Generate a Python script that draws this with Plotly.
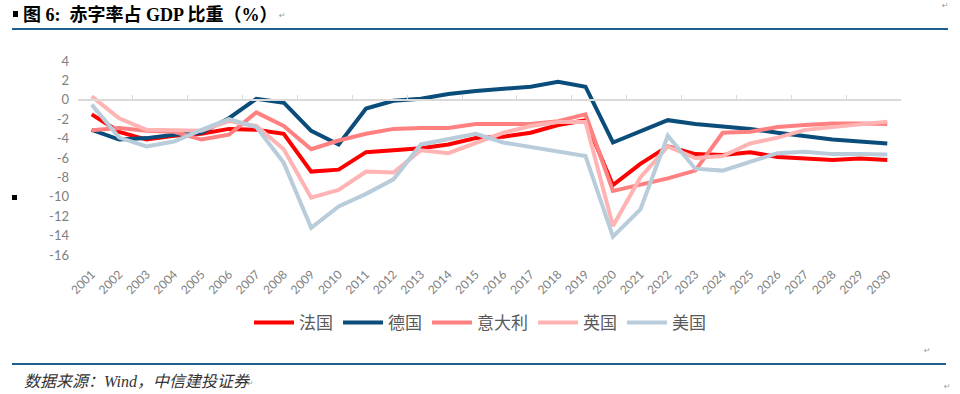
import plotly.graph_objects as go

years = [str(y) for y in range(2001, 2031)]

france = [-1.5, -3.3, -4.1, -3.7, -3.5, -3.0, -3.1, -3.5, -7.4, -7.2,
          -5.4, -5.2, -5.0, -4.6, -3.95, -3.8, -3.4, -2.6, -2.1, -8.8,
          -6.6, -4.8, -5.6, -5.7, -5.4, -5.9, -6.1, -6.2, -6.05, -6.2]
germany = [-3.1, -4.1, -3.95, -3.6, -3.4, -1.9, 0.1, -0.3, -3.2, -4.6,
           -0.9, -0.1, 0.1, 0.6, 0.9, 1.1, 1.35, 1.85, 1.35, -4.4,
           -3.3, -2.1, -2.5, -2.7, -3.0, -3.4, -3.8, -4.1, -4.3, -4.5]
italy = [-3.15, -2.9, -3.2, -3.3, -4.1, -3.6, -1.3, -2.7, -5.1, -4.2,
         -3.5, -3.0, -2.9, -2.9, -2.5, -2.5, -2.5, -2.2, -1.5, -9.4,
         -8.8, -8.1, -7.3, -3.4, -3.3, -2.8, -2.6, -2.45, -2.45, -2.5]
uk = [0.35, -1.9, -3.1, -3.2, -3.2, -2.2, -2.7, -5.1, -10.1, -9.3,
      -7.4, -7.5, -5.2, -5.5, -4.5, -3.4, -2.7, -2.3, -2.3, -13.0,
      -8.0, -4.8, -6.0, -5.8, -4.5, -3.9, -3.1, -2.85, -2.5, -2.25]
usa = [-0.5, -3.9, -4.8, -4.3, -3.1, -2.0, -2.8, -6.5, -13.2, -11.0,
       -9.7, -8.2, -4.6, -4.0, -3.5, -4.4, -4.9, -5.4, -5.8, -14.1,
       -11.3, -3.7, -7.1, -7.3, -6.4, -5.5, -5.35, -5.6, -5.6, -5.65]

series_names = ["法国", "德国", "意大利", "英国", "美国"]
series_colors = ["#FF0000", "#0B4D7A", "#FF8080", "#FFB3B3", "#B8CCDA"]
series_values = [france, germany, italy, uk, usa]

y_tickvals = [4, 2, 0, -2, -4, -6, -8, -10, -12, -14, -16]
y_ticktext = ["4", "2", "0", "-2", "-4", "-6", "-8", "-10", "-12", "-14", "-16"]

title_text = "图 6:  赤字率占 GDP 比重（%）"
source_text = "数据来源：Wind，中信建投证券"

# plot-area geometry in pixels
W_FIG, H_FIG = 960, 394
L, R, T, B = 78, 901, 61, 255
PW, PH = R - L, B - T


def fx(px):
    return (px - L) / PW


def fy(py):
    return (B - py) / PH


fig = go.Figure()
for name, color, vals in zip(series_names, series_colors, series_values):
    fig.add_trace(go.Scatter(
        x=years, y=vals, name=name, mode="lines",
        line=dict(color=color, width=4), hoverinfo="x+y+name"))

# helper trace for the zero-crossing category axis with tick marks
fig.add_trace(go.Scatter(x=[-0.5, 29.5], y=[0, 0], xaxis="x2", mode="lines",
                         line=dict(color="rgba(0,0,0,0)", width=0),
                         showlegend=False, hoverinfo="skip"))

fig.update_layout(
    width=W_FIG, height=H_FIG,
    margin=dict(l=L, r=W_FIG - R, t=T, b=H_FIG - B, autoexpand=False),
    paper_bgcolor="white", plot_bgcolor="white",
    showlegend=True,
    legend=dict(orientation="h", xref="container", yref="container",
                x=0.5, xanchor="center", y=(H_FIG - 323) / H_FIG, yanchor="middle",
                font=dict(family="Noto Sans CJK SC", size=17, color="#595959"),
                itemwidth=40, tracegroupgap=0, bgcolor="rgba(0,0,0,0)"),
    xaxis=dict(type="category", range=[-0.5, 29.5], showgrid=False, zeroline=False,
               showline=False, ticks="", tickangle=-45, ticklabelstandoff=9,
               automargin=False,
               tickfont=dict(family="Lato, Liberation Sans", size=12, color="#7F7F7F")),
    xaxis2=dict(overlaying="x", anchor="free", position=0.8, side="bottom",
                range=[-0.5, 29.5], tickmode="linear", tick0=-0.5, dtick=2,
                showgrid=False, zeroline=False, showline=True, linecolor="#D9D9D9",
                linewidth=1.5, ticks="inside", ticklen=4, tickwidth=1,
                tickcolor="#D9D9D9", showticklabels=False, automargin=False),
    yaxis=dict(range=[-16, 4], tickmode="array", tickvals=y_tickvals, ticktext=y_ticktext,
               showgrid=False, zeroline=False, showline=False, ticks="",
               ticklabelstandoff=8, automargin=False,
               tickfont=dict(family="Lato, Liberation Sans", size=13, color="#808080")),
)

rule_color = "#1F5F8F"
fig.add_shape(type="line", xref="paper", yref="paper",
              x0=fx(12), x1=fx(948), y0=fy(29), y1=fy(29),
              line=dict(color=rule_color, width=2))
fig.add_shape(type="line", xref="paper", yref="paper",
              x0=fx(12), x1=fx(946), y0=fy(364), y1=fy(364),
              line=dict(color=rule_color, width=2))
# small title bullet
fig.add_shape(type="rect", xref="paper", yref="paper",
              x0=fx(13), x1=fx(18), y0=fy(17), y1=fy(11),
              fillcolor="black", line=dict(width=0))
# small left bullet
fig.add_shape(type="rect", xref="paper", yref="paper",
              x0=fx(12), x1=fx(17), y0=fy(200), y1=fy(195),
              fillcolor="black", line=dict(width=0))

fig.add_annotation(text="<b>" + title_text + "</b>", xref="paper", yref="paper",
                   x=fx(21), y=fy(15), xanchor="left", yanchor="middle", showarrow=False,
                   font=dict(family="Liberation Serif, Noto Sans CJK SC", size=18, color="black"))
fig.add_annotation(text="↵", xref="paper", yref="paper",
                   x=fx(277), y=fy(16), xanchor="left", yanchor="middle", showarrow=False,
                   font=dict(family="DejaVu Sans", size=8, color="#999999"))
fig.add_annotation(text="<i>" + source_text + "</i>", xref="paper", yref="paper",
                   x=fx(22), y=fy(381), xanchor="left", yanchor="middle", showarrow=False,
                   font=dict(family="Liberation Serif, Noto Sans CJK SC", size=16, color="#333333"))
for (px, py) in [(945, 6), (927, 350), (947, 386), (250, 383)]:
    fig.add_annotation(text="↵", xref="paper", yref="paper",
                       x=fx(px), y=fy(py), xanchor="center", yanchor="middle", showarrow=False,
                       font=dict(family="DejaVu Sans", size=8, color="#999999"))

fig.write_html("out.html", config={"displayModeBar": False},
               post_script="document.body.style.margin='0';document.body.style.overflow='hidden';")
